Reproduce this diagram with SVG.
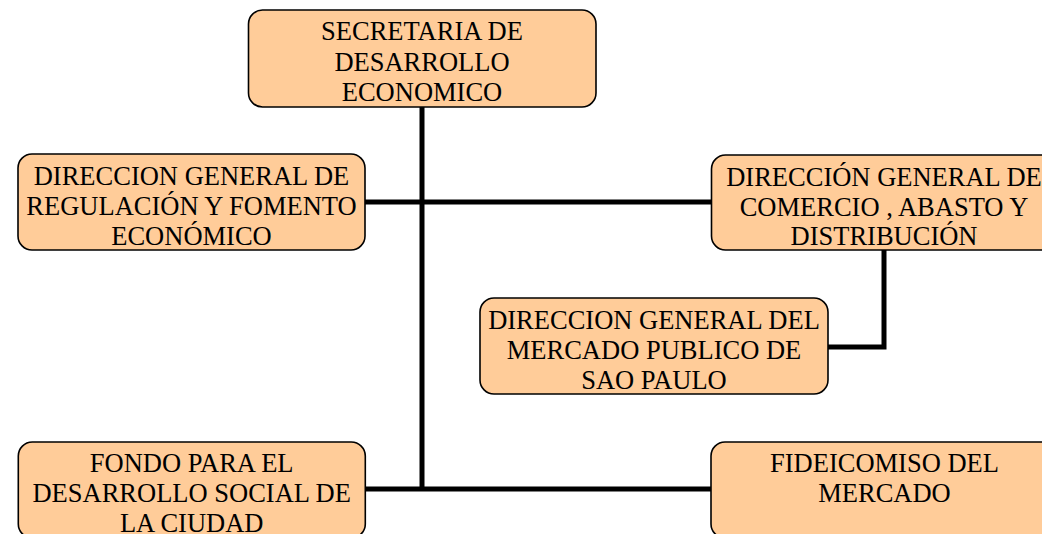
<svg xmlns="http://www.w3.org/2000/svg" width="1042" height="534" viewBox="0 0 1042 534">
<style>
.box{fill:#FFCC99;stroke:#000;stroke-width:1.6}
.t{font-size:26.5px;fill:#000;text-anchor:middle}
.c{fill:none;stroke:#000;stroke-width:5;stroke-linecap:butt;stroke-linejoin:miter}
</style>
<rect width="1042" height="534" fill="#fff"/>
<g id="connectors">
<path class="c" d="M422,107 V489"/>
<path class="c" d="M365,202 H711"/>
<path class="c" d="M365,489 H711"/>
<path class="c" d="M884,250 V347 H828"/>
</g>
<g font-family="'Liberation Serif', 'DejaVu Serif', serif">
<g id="n1">
<rect class="box" x="248.5" y="10" width="347.5" height="97" rx="14"/>
<text class="t" x="422" y="40">SECRETARIA DE</text>
<text class="t" x="422" y="70.5">DESARROLLO</text>
<text class="t" x="422" y="100.5">ECONOMICO</text>
</g>
<g id="n2">
<rect class="box" x="18" y="154" width="347" height="96" rx="14"/>
<text class="t" x="191.5" y="185">DIRECCION GENERAL DE</text>
<text class="t" x="191.5" y="215">REGULACIÓN Y FOMENTO</text>
<text class="t" x="191.5" y="244.5">ECONÓMICO</text>
</g>
<g id="n3">
<rect class="box" x="711.5" y="155" width="345" height="95" rx="14"/>
<text class="t" x="884" y="185.5">DIRECCIÓN GENERAL DE</text>
<text class="t" x="884" y="215.5">COMERCIO , ABASTO Y</text>
<text class="t" x="884" y="245">DISTRIBUCIÓN</text>
</g>
<g id="n4">
<rect class="box" x="480" y="298" width="348" height="96" rx="14"/>
<text class="t" x="654" y="328.5">DIRECCION GENERAL DEL</text>
<text class="t" x="654" y="359">MERCADO PUBLICO DE</text>
<text class="t" x="654" y="388.5">SAO PAULO</text>
</g>
<g id="n5">
<rect class="box" x="18.3" y="442" width="347" height="96" rx="14"/>
<text class="t" x="191.7" y="471.7">FONDO PARA EL</text>
<text class="t" x="191.7" y="501.7">DESARROLLO SOCIAL DE</text>
<text class="t" x="191.7" y="531.7">LA CIUDAD</text>
</g>
<g id="n6">
<rect class="box" x="711" y="442" width="346" height="96" rx="14"/>
<text class="t" x="884.5" y="471.7">FIDEICOMISO DEL</text>
<text class="t" x="884.5" y="501.7">MERCADO</text>
</g>
</g>
</svg>
